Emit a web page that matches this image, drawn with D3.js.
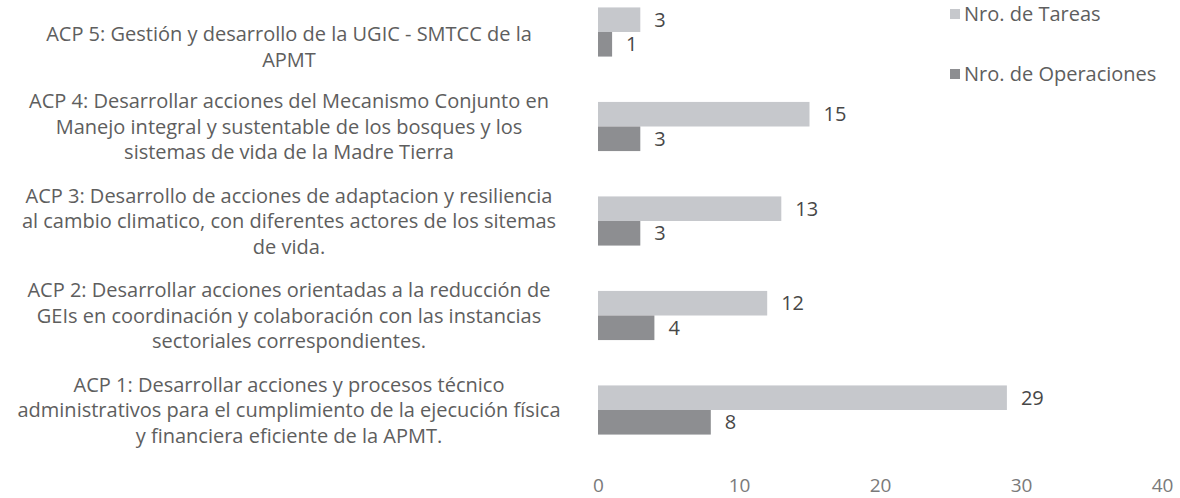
<!DOCTYPE html>
<html>
<head>
<meta charset="utf-8">
<script src="https://cdn.jsdelivr.net/npm/d3@7"></script>
<style>
  body { margin: 0; background: #fff; }
  text { font-family: "Open Sans", sans-serif; }
</style>
</head>
<body>
<svg id="chart" width="1180" height="498"></svg>
<script>
// categories top -> bottom, as in the picture
const categories = ["ACP 5", "ACP 4", "ACP 3", "ACP 2", "ACP 1"];
const categoryLines = [
    ["ACP 5: Gestión y desarrollo de la UGIC - SMTCC de la", "APMT"],
    ["ACP 4: Desarrollar acciones del Mecanismo Conjunto en", "Manejo integral y sustentable de los bosques y los", "sistemas de vida de la Madre Tierra"],
    ["ACP 3: Desarrollo de acciones de adaptacion y resiliencia", "al cambio climatico, con diferentes actores de los sitemas", "de vida."],
    ["ACP 2: Desarrollar acciones orientadas a la reducción de", "GEIs en coordinación y colaboración con las instancias", "sectoriales correspondientes."],
    ["ACP 1: Desarrollar acciones y procesos técnico", "administrativos para el cumplimiento de la ejecución física", "y financiera eficiente de la APMT."]
];
const seriesNames = ["Nro. de Tareas", "Nro. de Operaciones"];
const tareas = [3, 15, 13, 12, 29];
const operaciones = [1, 3, 3, 4, 8];
const xTicks = [0, 10, 20, 30, 40];

const colors = ["#c6c8cc", "#8d8e91"];
const series = [tareas, operaciones];
const fontSize = 20;

let svg = d3.select("#chart");

let x = d3.scaleLinear()
    .domain([0, 40])
    .range([598, 1162]);

let y = d3.scaleBand()
    .domain(categories)
    .range([-15.25, 457.25])
    .paddingInner(0.48)
    .paddingOuter(0.24);

let ySub = d3.scaleBand()
    .domain(seriesNames)
    .range([0, y.bandwidth()]);

// bars
series.forEach((vals, s) => {
    let g = svg.append("g");
    g.selectAll("rect")
        .data(vals)
        .enter()
        .append("rect")
            .attr("x", x(0))
            .attr("y", (d, i) => y(categories[i]) + ySub(seriesNames[s]))
            .attr("width", d => x(d) - x(0))
            .attr("height", ySub.bandwidth())
            .attr("fill", colors[s]);

    g.selectAll("text")
        .data(vals)
        .enter()
        .append("text")
            .attr("x", d => x(d) + 14)
            .attr("y", (d, i) => y(categories[i]) + ySub(seriesNames[s]) + ySub.bandwidth() / 2)
            .attr("dy", "0.35em")
            .attr("font-size", fontSize)
            .attr("fill", "#474747")
            .text(d => d);
});

// category labels (centred, multi line)
const lineH = 25.5;
categoryLines.forEach((lines, i) => {
    let cy = y(categories[i]) + y.bandwidth() / 2;
    let first = cy - (lines.length - 1) * lineH / 2;
    first = Math.max(first, 34);
    svg.append("text")
        .attr("text-anchor", "middle")
        .attr("font-size", fontSize)
        .attr("fill", "#5e5e5e")
        .selectAll("tspan")
        .data(lines)
        .enter()
        .append("tspan")
            .attr("x", 289)
            .attr("y", (d, j) => first + j * lineH)
            .attr("dy", "0.35em")
            .text(d => d);
});

// x axis, labels only
let xAxis = d3.axisBottom(x)
    .tickValues(xTicks)
    .tickSize(0)
    .tickPadding(0);

let axisG = svg.append("g")
    .attr("transform", "translate(0, 478)")
    .call(xAxis);
axisG.select(".domain").remove();
axisG.selectAll("text")
    .attr("font-family", "Open Sans, sans-serif")
    .attr("font-size", 19)
    .attr("fill", "#7a7a7a");

// legend
let legend = svg.append("g")
    .selectAll("g")
    .data(seriesNames)
    .enter()
    .append("g")
        .attr("transform", (d, i) => `translate(950, ${14 + i * 60})`);

legend.append("rect")
    .attr("x", 0)
    .attr("y", -5)
    .attr("width", 10)
    .attr("height", 10)
    .attr("fill", (d, i) => colors[i]);

legend.append("text")
    .attr("x", 14)
    .attr("dy", "0.35em")
    .attr("font-size", fontSize)
    .attr("fill", "#5e5e5e")
    .text(d => d);
</script>
</body>
</html>
